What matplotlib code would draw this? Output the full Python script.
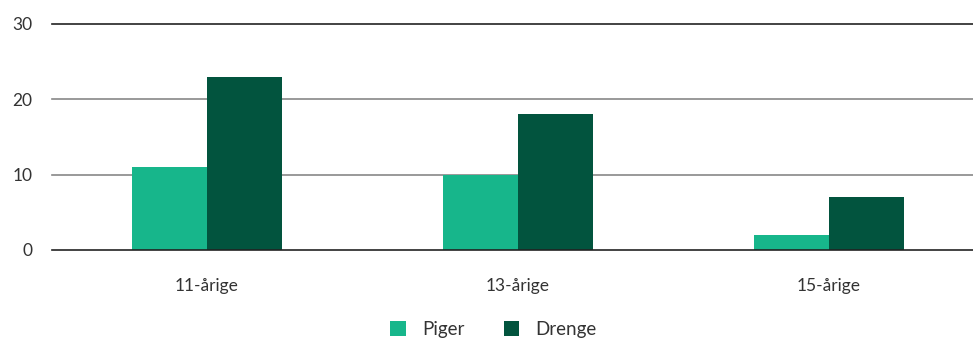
import matplotlib.pyplot as plt
import numpy as np

plt.rcParams['font.family'] = ['Lato', 'DejaVu Sans']

groups = ["11-årige", "13-årige", "15-årige"]
piger = [11, 10, 2]
drenge = [23, 18, 7]
yticks = [0, 10, 20, 30]

c_piger = "#17b68b"
c_drenge = "#02543e"
txt = "#333333"

fig = plt.figure(figsize=(9.73, 3.38), dpi=100)
ax = fig.add_axes([52 / 973, 1 - 250 / 338, 1 - 52 / 973, 226 / 338])

x = np.arange(len(groups))
w = 0.241
ax.bar(x - w / 2, piger, w, color=c_piger, label="Piger", zorder=3)
ax.bar(x + w / 2, drenge, w, color=c_drenge, label="Drenge", zorder=3)

ax.set_xlim(-0.498, 2.463)
ax.set_ylim(0, 30)
ax.set_yticks(yticks)
ax.set_xticks(x)
ax.set_xticklabels(groups)
for t in yticks:
    col = "#222222" if t in (0, 30) else "#888888"
    ax.axhline(t, color=col, lw=1.2, zorder=1 if t else 4, clip_on=False)

for s in ax.spines.values():
    s.set_visible(False)
ax.tick_params(axis="both", length=0, labelsize=12.5, colors=txt)
ax.tick_params(axis="y", pad=14)
ax.tick_params(axis="x", pad=20)

fig.legend(loc="lower center", bbox_to_anchor=(0.507, -0.05), ncol=2, frameon=False,
           fontsize=13.5, handlelength=0.85, handleheight=0.85, columnspacing=2.1,
           handletextpad=0.85, labelcolor=txt)

fig.savefig("out.png", dpi=100)
